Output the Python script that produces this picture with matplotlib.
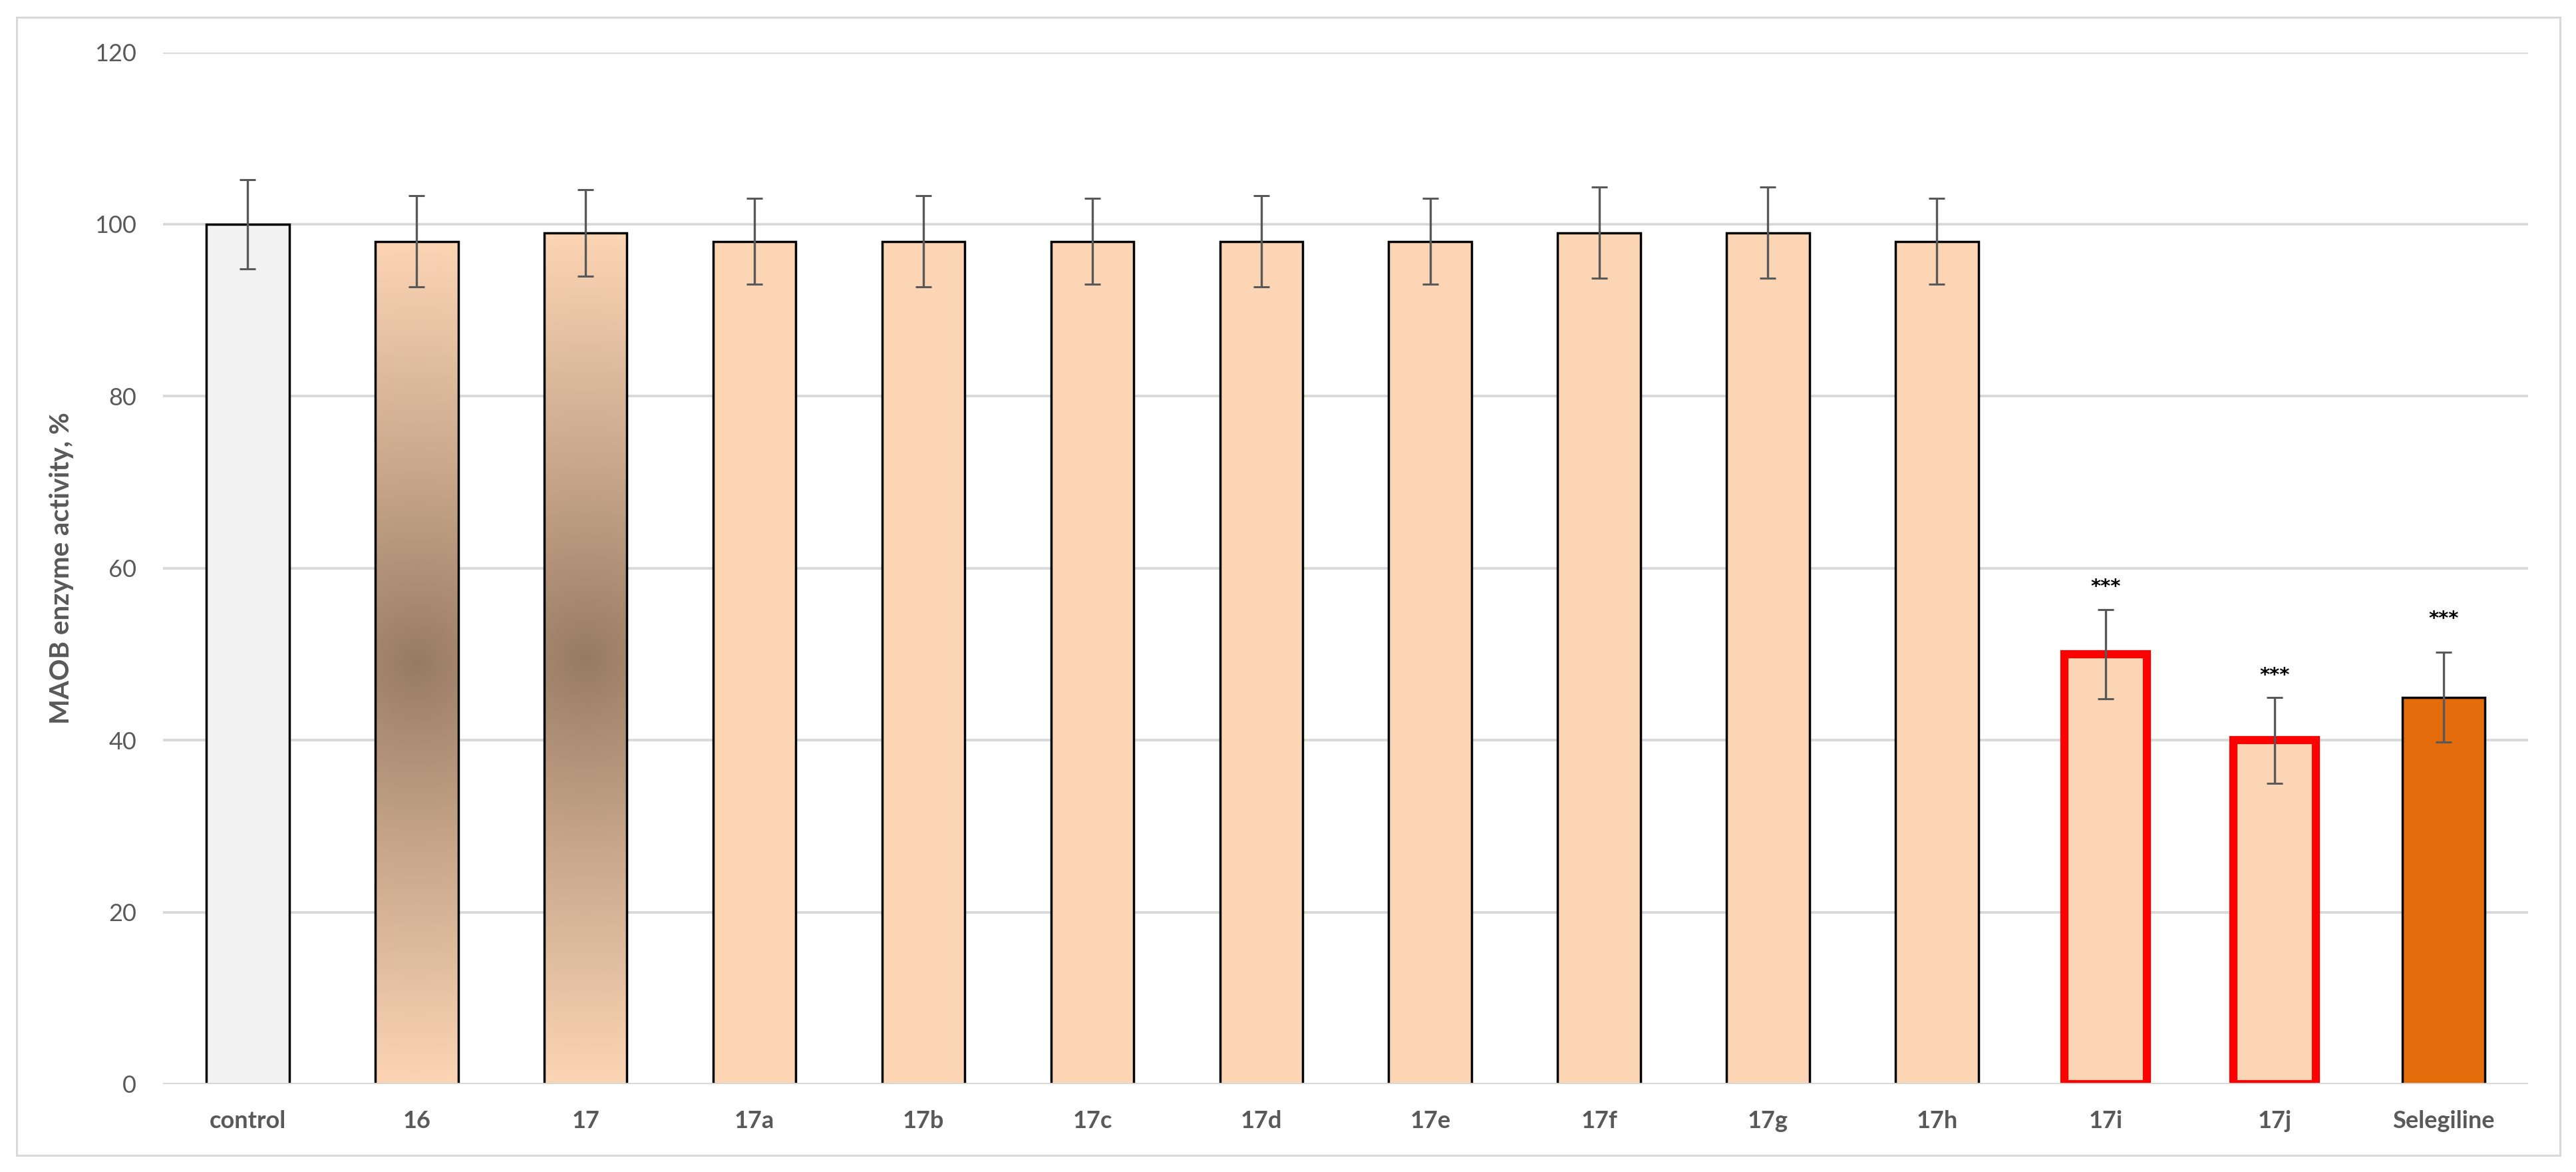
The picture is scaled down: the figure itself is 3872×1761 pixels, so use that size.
import matplotlib.pyplot as plt
import numpy as np
from matplotlib.patches import Rectangle

plt.rcParams['font.family'] = ['Lato', 'DejaVu Sans']

categories = ['control', '16', '17', '17a', '17b', '17c', '17d', '17e',
              '17f', '17g', '17h', '17i', '17j', 'Selegiline']
activity = [100, 98, 99, 98, 98, 98, 98, 98, 99, 99, 98, 50, 40, 45]
sd = [5.2, 5.3, 5.0, 5.0, 5.3, 5.0, 5.3, 5.0, 5.3, 5.3, 5.0, 5.2, 5.0, 5.2]
fill_colors = ['#F2F2F2'] + ['#FCD5B5'] * 12 + ['#E46C0A']
edge_colors = ['black'] * 11 + ['#FF0000', '#FF0000', 'black']
gradient_bars = ['16', '17']
significant = ['17i', '17j', 'Selegiline']
star_y = [58.6, 48.3, 54.9]

W, H = 3873, 1761
fig = plt.figure(figsize=(W / 100, H / 100), dpi=100)
ax_box = [245.5 / W, 1 - 1629 / H, (3800 - 245.5) / W, (1629 - 78.6) / H]
ax = fig.add_axes(ax_box)

x = np.arange(len(categories))
bw = 0.49
lws = [8.8 if c == '#FF0000' else 2.5 for c in edge_colors]

fills = ax.bar(x, activity, bw, color=fill_colors, edgecolor='none', zorder=2)

# radial brown gradient inside bars 16 and 17
px_x = ax_box[2] * W / len(categories)
px_y = ax_box[3] * H / 120
center = np.array([150, 122, 98]) / 255
edge = np.array([252, 213, 181]) / 255
for name in gradient_bars:
    i = categories.index(name)
    v = activity[i]
    ny, nx = 600, 60
    yy, xx = np.mgrid[0:ny, 0:nx]
    dx = ((xx + 0.5) / nx - 0.5) * bw * px_x
    dy = ((yy + 0.5) / ny - 0.5) * v * px_y
    d = np.clip(np.hypot(dx, dy) / (v / 2 * px_y), 0, 1) ** 0.9
    img = center + (edge - center) * d[..., None]
    im = ax.imshow(img, extent=[i - bw / 2, i + bw / 2, 0, v], origin='lower',
                   aspect='auto', zorder=2.05, interpolation='bilinear')
    im.set_clip_path(fills[i])

ax.bar(x, activity, bw, color='none', edgecolor=edge_colors, linewidth=lws, zorder=2.2)
ax.axhline(0, color='#D9D9D9', lw=2.8, zorder=2.5)
ax.errorbar(x, activity, yerr=sd, fmt='none', ecolor='#595959', elinewidth=2.4,
            capsize=8.3, capthick=2.2, zorder=3)

# DejaVu asterisks sit high, so place by baseline
for name, sy in zip(significant, star_y):
    ax.text(categories.index(name), sy - 1.4, '***', ha='center', va='baseline',
            fontsize=21, fontweight='bold', color='black', family='DejaVu Sans', zorder=4)

ax.set_xlim(-0.5, len(categories) - 0.5)
ax.set_ylim(0, 120)
ax.set_yticks(np.arange(0, 121, 20))
ax.set_xticks(x)
ax.set_xticklabels(categories, fontweight='bold')
ax.tick_params(axis='both', length=0, colors='#595959', labelsize=26)
ax.tick_params(axis='x', pad=28)
ax.tick_params(axis='y', pad=29)
ax.grid(axis='y', color='#D9D9D9', lw=2.8, zorder=0)
ax.set_axisbelow(True)
for s in ax.spines.values():
    s.set_visible(False)
ax.set_ylabel('MAOB enzyme activity, %', fontsize=29, fontweight='bold', color='#595959')
ax.yaxis.set_label_coords(-0.0378, 0.5)

fig.patches.append(Rectangle((25 / W, 1 - 1736 / H), (3848 - 25) / W, (1736 - 26) / H,
                             transform=fig.transFigure, fill=False,
                             edgecolor='#D9D9D9', lw=2.2))

fig.savefig('out.png', dpi=100)
